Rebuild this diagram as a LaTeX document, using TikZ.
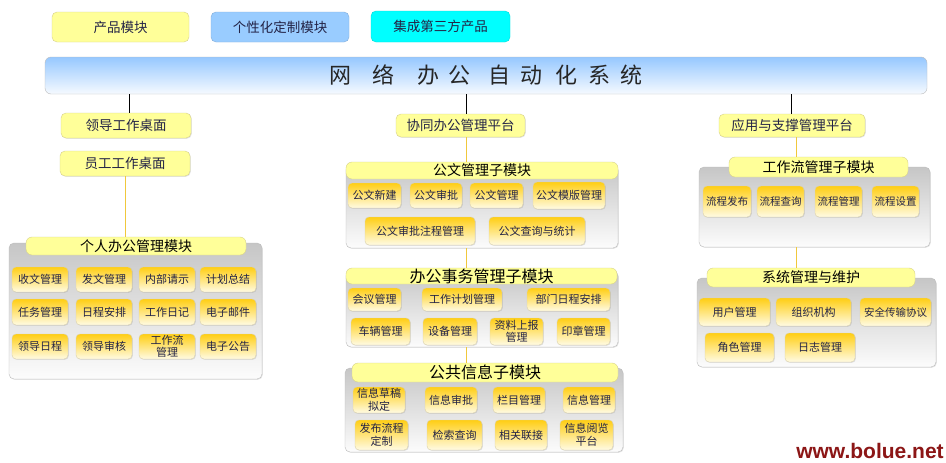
\documentclass[tikz,border=0pt]{standalone}
\usepackage{fontspec}
\setmainfont{Noto Sans CJK SC}
\newfontfamily\wmfont{Liberation Sans}
\usetikzlibrary{shadows}
\definecolor{itemtop}{RGB}{255,206,20}
\definecolor{itembot}{RGB}{255,251,228}
\definecolor{itemdraw}{RGB}{218,208,170}
\definecolor{hdrfill}{RGB}{255,255,153}
\definecolor{hdrdraw}{RGB}{214,208,140}
\definecolor{paneltop}{RGB}{198,198,198}
\definecolor{panelbot}{RGB}{252,252,252}
\definecolor{paneldraw}{RGB}{188,188,188}
\definecolor{titletop}{RGB}{150,200,255}
\definecolor{titlebot}{RGB}{246,250,255}
\definecolor{bluebox}{RGB}{153,204,255}
\definecolor{cyanbox}{RGB}{0,255,255}
\definecolor{txt}{RGB}{35,35,70}
\definecolor{yline}{RGB}{240,200,60}
\definecolor{wm}{RGB}{140,22,22}
\newcommand\mybox[7]{\node[#1, minimum width={(#5)-(#3)}, minimum height={(#6)-(#4)}] (#2) at ({((#3)+(#5))/2},{-((#4)+(#6))/2}) {#7};}
\tikzset{
  softshadow/.style={drop shadow={shadow xshift=0.8pt, shadow yshift=-0.8pt, opacity=0.22}},
  item/.style={rounded corners=4pt, draw=itemdraw, top color=itemtop, bottom color=itembot, inner sep=0pt, align=center, font=\fontsize{11}{12.5}\selectfont, text=txt, softshadow},
  panel/.style={rounded corners=5pt, draw=paneldraw, top color=paneltop, bottom color=panelbot, inner sep=0pt, softshadow},
  hdr/.style={rounded corners=6pt, draw=hdrdraw, fill=hdrfill, inner sep=0pt, font=\fontsize{14}{16}\selectfont, text=black},
  bighdr/.style={hdr, font=\fontsize{16}{18}\selectfont},
  plat/.style={rounded corners=5pt, draw=hdrdraw, fill=hdrfill, inner sep=0pt, font=\fontsize{13.5}{15}\selectfont, text=txt, softshadow},
  topbox/.style={rounded corners=5pt, inner sep=0pt, font=\fontsize{13.5}{15}\selectfont, text=txt},
  blackline/.style={draw=black, line width=0.8pt},
  yellowline/.style={draw=yline, line width=1pt},
}
\begin{document}
\begin{tikzpicture}[x=1pt,y=1pt]
\fill[white] (0,0) rectangle (946,-463);
\useasboundingbox (0,0) rectangle (946,-463);
% top legend boxes
\mybox{topbox, draw=hdrdraw, fill=hdrfill}{t1}{52}{12}{189}{42}{产品模块}
\mybox{topbox, draw=bluebox!85!black, fill=bluebox}{t2}{211}{12}{349}{42}{个性化定制模块}
\mybox{topbox, draw=cyanbox!85!black, fill=cyanbox}{t3}{371}{11}{510}{42}{集成第三方产品}
% title bar
\mybox{rounded corners=6pt, draw=paneldraw, top color=titletop, bottom color=titlebot, inner sep=0pt}{title}{45}{57}{927}{94}{}
\node[font=\fontsize{22}{24}\selectfont, text=black!85, inner sep=0pt] (titletext) at (486,-75) {网\hspace{21pt}络\hspace{23pt}办\hspace{9pt}公\hspace{18pt}自\hspace{10pt}动\hspace{13pt}化\hspace{11pt}系\hspace{10pt}统};
% platforms
\mybox{plat}{ld}{61}{113}{191}{138}{领导工作桌面}
\mybox{plat}{yg}{60}{151}{190}{176}{员工工作桌面}
\mybox{plat}{xt}{396}{114}{525}{137}{协同办公管理平台}
\mybox{plat}{yy}{719}{114}{865}{137}{应用与支撑管理平台}
% panels
\mybox{panel}{p1}{9}{243}{262}{379}{}
\mybox{panel}{p2}{346}{165}{618}{248}{}
\mybox{panel}{p3}{346}{271}{618}{347}{}
\mybox{panel}{p4}{345}{368}{623}{452}{}
\mybox{panel}{p5}{699}{167}{930}{247}{}
\mybox{panel}{p6}{697}{278}{936}{367}{}
% headers
\mybox{hdr}{h1}{26}{237}{246}{255}{个人办公管理模块}
\mybox{hdr}{h2}{346}{162}{618}{179}{公文管理子模块}
\mybox{bighdr}{h3}{346}{268}{617}{284}{办公事务管理子模块}
\mybox{bighdr}{h4}{352}{363}{618}{382}{公共信息子模块}
\mybox{hdr}{h5}{729}{157}{908}{177}{工作流管理子模块}
\mybox{hdr}{h6}{707}{268}{915}{287}{系统管理与维护}
% personal office items
\mybox{item}{a11}{12}{267}{68}{292}{收文管理}
\mybox{item}{a12}{76}{267}{132}{292}{发文管理}
\mybox{item}{a13}{139}{267}{195}{292}{内部请示}
\mybox{item}{a14}{200}{267}{256}{292}{计划总结}
\mybox{item}{a21}{12}{299}{68}{325}{任务管理}
\mybox{item}{a22}{76}{299}{132}{325}{日程安排}
\mybox{item}{a23}{139}{299}{195}{325}{工作日记}
\mybox{item}{a24}{200}{299}{256}{325}{电子邮件}
\mybox{item}{a31}{12}{334}{68}{359}{领导日程}
\mybox{item}{a32}{76}{334}{132}{359}{领导审核}
\mybox{item}{a33}{139}{334}{195}{359}{工作流\\管理}
\mybox{item}{a34}{200}{334}{256}{359}{电子公告}
% document items
\mybox{item}{b1}{348}{183}{401}{208}{公文新建}
\mybox{item}{b2}{410}{183}{462}{208}{公文审批}
\mybox{item}{b3}{470}{183}{523}{208}{公文管理}
\mybox{item}{b4}{533}{182}{605}{209}{公文模版管理}
\mybox{item}{b5}{365}{217}{475}{245}{公文审批注程管理}
\mybox{item}{b6}{489}{217}{585}{245}{公文查询与统计}
% office affairs items
\mybox{item}{c1}{348}{288}{401}{311}{会议管理}
\mybox{item}{c2}{422}{288}{502}{311}{工作计划管理}
\mybox{item}{c3}{527}{288}{610}{311}{部门日程安排}
\mybox{item}{c4}{351}{318}{410}{345}{车辆管理}
\mybox{item}{c5}{423}{318}{477}{345}{设备管理}
\mybox{item}{c6}{490}{318}{543}{345}{资料上报\\管理}
\mybox{item}{c7}{557}{318}{610}{345}{印章管理}
% public info items
\mybox{item}{d1}{353}{387}{405}{413}{信息草稿\\拟定}
\mybox{item}{d2}{425}{387}{477}{413}{信息审批}
\mybox{item}{d3}{493}{387}{545}{413}{栏目管理}
\mybox{item}{d4}{563}{387}{615}{413}{信息管理}
\mybox{item}{d5}{355}{420}{408}{450}{发布流程\\定制}
\mybox{item}{d6}{427}{420}{482}{450}{检索查询}
\mybox{item}{d7}{495}{420}{547}{450}{相关联接}
\mybox{item}{d8}{560}{420}{613}{450}{信息阅览\\平台}
% workflow items
\mybox{item, font=\fontsize{10.5}{12}\selectfont}{e1}{703}{186}{751}{217}{流程发布}
\mybox{item, font=\fontsize{10.5}{12}\selectfont}{e2}{757}{186}{804}{217}{流程查询}
\mybox{item, font=\fontsize{10.5}{12}\selectfont}{e3}{815}{186}{862}{217}{流程管理}
\mybox{item, font=\fontsize{10.5}{12}\selectfont}{e4}{872}{186}{919}{217}{流程设置}
% system items
\mybox{item}{f1}{699}{298}{770}{326}{用户管理}
\mybox{item}{f2}{776}{298}{851}{326}{组织机构}
\mybox{item, font=\fontsize{10.5}{12}\selectfont}{f3}{860}{298}{931}{326}{安全传输协议}
\mybox{item}{f4}{705}{333}{774}{362}{角色管理}
\mybox{item}{f5}{785}{333}{855}{362}{日志管理}
% connectors
\coordinate (mx) at (466,0);
\coordinate (rx) at (796,0);
\coordinate (lx) at (129,0);
\coordinate (rbx) at (791,0);
\draw[blackline] (lx |- title.south) -- (lx |- ld.north);
\draw[blackline] (mx |- title.south) -- (mx |- xt.north);
\draw[blackline] (rbx |- title.south) -- (rbx |- yy.north);
\draw[yellowline] (yg.south) -- (yg.south |- h1.north);
\draw[yellowline] (mx |- xt.south) -- (mx |- h2.north);
\draw[yellowline] (mx |- p2.south) -- (mx |- h3.north);
\draw[yellowline] (mx |- p3.south) -- (mx |- h4.north);
\draw[yellowline] (rx |- yy.south) -- (rx |- h5.north);
\draw[yellowline] (rx |- p5.south) -- (rx |- h6.north);
% watermark
\node[font=\wmfont\bfseries\fontsize{21}{23}\selectfont, text=wm, inner sep=1pt] (wmark) at (870,-451) {www.bolue.net};
\end{tikzpicture}
\end{document}
